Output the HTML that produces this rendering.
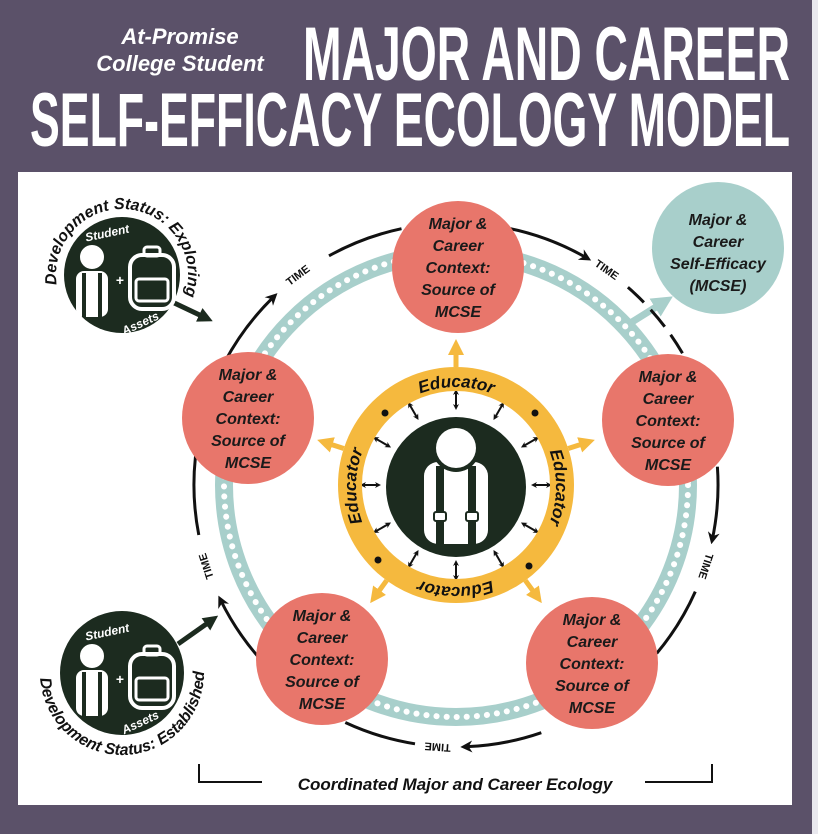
<!DOCTYPE html>
<html><head><meta charset="utf-8"><style>
html,body{margin:0;padding:0;background:#5b5169;}
svg{display:block}
.t{font-family:"Liberation Sans",sans-serif;font-weight:bold;font-style:italic;}
</style></head><body>
<svg id="s" width="818" height="834" viewBox="0 0 818 834" xmlns="http://www.w3.org/2000/svg">
<defs>
<marker id="ah" viewBox="0 0 10 10" refX="6" refY="5" markerWidth="4" markerHeight="4" orient="auto" markerUnits="strokeWidth"><path d="M0,0 L10,5 L0,10 L3,5 z" fill="#111"/></marker>
<marker id="ah2" viewBox="0 0 10 10" refX="5" refY="5" markerWidth="3" markerHeight="3" orient="auto-start-reverse" markerUnits="strokeWidth"><path d="M0,0 L10,5 L0,10 L3,5 z" fill="#111"/></marker>
<marker id="ay" viewBox="0 0 10 10" refX="5" refY="5" markerWidth="3.2" markerHeight="3.2" orient="auto" markerUnits="strokeWidth"><path d="M0,0 L10,5 L0,10 z" fill="#f5b93e"/></marker>
<marker id="at" viewBox="0 0 10 10" refX="5" refY="5" markerWidth="3" markerHeight="3" orient="auto" markerUnits="strokeWidth"><path d="M0,0 L10,5 L0,10 z" fill="#a8cfcb"/></marker>
<marker id="ad" viewBox="0 0 10 10" refX="5" refY="5" markerWidth="3" markerHeight="3" orient="auto" markerUnits="strokeWidth"><path d="M0,0 L10,5 L0,10 z" fill="#1c2b1f"/></marker>
<path id="edu" d="M356,487 A100,100 0 1 1 556,487 A100,100 0 1 1 356,487 A100,100 0 1 1 556,487 A100,100 0 1 1 356,487"/>
<path id="b1" d="M60,297.6 A66,66 0 1 1 179.2,308"/>
<path id="b2" d="M51,632 A82,82 0 1 0 189.2,626"/>
</defs>
<rect x="0" y="0" width="818" height="834" fill="#5b5169"/>
<rect x="812" y="0" width="6" height="834" fill="#e9e8ee"/>
<rect x="18" y="172" width="774" height="633" fill="#fff"/>

<text x="180" y="44" text-anchor="middle" class="t" font-size="22" fill="#fff">At-Promise</text>
<text x="180" y="71" text-anchor="middle" class="t" font-size="22" fill="#fff">College Student</text>
<text x="303" y="80" textLength="487" lengthAdjust="spacingAndGlyphs" font-family="'Liberation Sans Narrow','Liberation Sans',sans-serif" font-weight="bold" font-size="76" fill="#fff">MAJOR AND CAREER</text>
<text x="30" y="146" textLength="760" lengthAdjust="spacingAndGlyphs" font-family="'Liberation Sans Narrow','Liberation Sans',sans-serif" font-weight="bold" font-size="76" fill="#fff">SELF-EFFICACY ECOLOGY MODEL</text>

<g id="dyn"></g>

<circle cx="456" cy="485" r="106" fill="none" stroke="#f5b93e" stroke-width="24"/>
<g class="t" font-size="17" fill="#111" font-style="normal" font-family="'Liberation Serif','Liberation Sans',serif">
<text><textPath href="#edu" startOffset="157" text-anchor="middle">Educator</textPath></text>
<text><textPath href="#edu" startOffset="314" text-anchor="middle">Educator</textPath></text>
<text><textPath href="#edu" startOffset="471" text-anchor="middle">Educator</textPath></text>
<text><textPath href="#edu" startOffset="628" text-anchor="middle">Educator</textPath></text>
</g>
<circle cx="385" cy="413" r="3.5" fill="#111"/><circle cx="535" cy="413" r="3.5" fill="#111"/>
<circle cx="378" cy="560" r="3.5" fill="#111"/><circle cx="529" cy="566" r="3.5" fill="#111"/>
<circle cx="456" cy="487" r="70" fill="#1c2b1f"/>
<rect x="424" y="462" width="64" height="82" rx="14" fill="#fff"/>
<rect x="436" y="466" width="8" height="80" fill="#1c2b1f"/>
<rect x="468" y="466" width="8" height="80" fill="#1c2b1f"/>
<rect x="434" y="512" width="12" height="9" rx="2" fill="#fff" stroke="#1c2b1f" stroke-width="2"/>
<rect x="466" y="512" width="12" height="9" rx="2" fill="#fff" stroke="#1c2b1f" stroke-width="2"/>
<circle cx="456" cy="448" r="24" fill="#1c2b1f"/>
<circle cx="456" cy="448" r="20" fill="#fff"/>

<circle cx="122" cy="275" r="58" fill="#1c2b1f"/>
<circle cx="122" cy="673" r="62" fill="#1c2b1f"/>
<g class="t" font-size="16" fill="#111" font-style="normal">
<text><textPath href="#b1" startOffset="50%" text-anchor="middle">Development Status: Exploring</textPath></text>
<text><textPath href="#b2" startOffset="50%" text-anchor="middle">Development Status: Established</textPath></text>
</g>

<path d="M199,764 V782 H262 M645,782 H712 V764" fill="none" stroke="#111" stroke-width="2"/>
<text x="455" y="790" text-anchor="middle" class="t" font-size="17" fill="#111">Coordinated Major and Career Ecology</text>
</svg>
<script>
(function(){
var NS="http://www.w3.org/2000/svg",g=document.getElementById('dyn'),C=[456,485];
function el(n,a,p){var e=document.createElementNS(NS,n);for(var k in a)e.setAttribute(k,a[k]);(p||g).appendChild(e);return e;}
function pt(r,a){a=a*Math.PI/180;return [C[0]+r*Math.cos(a),C[1]+r*Math.sin(a)];}
function arc(r,a1,a2){var p=pt(r,a1),q=pt(r,a2);return "M"+p[0].toFixed(1)+","+p[1].toFixed(1)+" A"+r+","+r+" 0 0 1 "+q[0].toFixed(1)+","+q[1].toFixed(1);}
el('circle',{cx:C[0],cy:C[1],r:232,fill:'none',stroke:'#a8cfcb','stroke-width':18});
el('circle',{cx:C[0],cy:C[1],r:232,fill:'none',stroke:'#fff','stroke-width':6,'stroke-dasharray':'0.1 10','stroke-linecap':'round'});
el('path',{d:'M632,322 L664,302',stroke:'#a8cfcb','stroke-width':7,fill:'none','marker-end':'url(#at)'});
var R=262;
var segs=[[208,226,1],[241,258,0],[281,300,1],[311,330,2],[-4,12,1],[24,40,0],[71,88,1],[99,115,0],[139,154,1],[169,192,0]];
segs.forEach(function(s){var a={d:arc(R,s[0],s[1]),fill:'none',stroke:'#111','stroke-width':3};if(s[2]==1)a['marker-end']='url(#ah)';if(s[2]==2)a['stroke-dasharray']='22 10';el('path',a);});
[[233,"TIME"],[305,"TIME"],[18,"TIME"],[94,"TIME"],[162,"TIME"]].forEach(function(l){var p=pt(R,l[0]);var t=el('text',{x:p[0].toFixed(1),y:p[1].toFixed(1),'text-anchor':'middle','dominant-baseline':'central','font-family':'Liberation Sans,sans-serif','font-weight':'bold','font-size':11,fill:'#111',transform:'rotate('+(l[0]+90)+' '+p[0].toFixed(1)+' '+p[1].toFixed(1)+')'});t.textContent=l[1];});
[-90,-162,-18,126,54].forEach(function(a){var p=pt(118,a),q=pt(138,a);el('path',{d:'M'+p[0]+','+p[1]+' L'+q[0]+','+q[1],stroke:'#f5b93e','stroke-width':5,'marker-end':'url(#ay)'});});
for(var i=0;i<12;i++){var a=i*30-90,p=pt(78,a),q=pt(93,a);el('path',{d:'M'+p[0]+','+p[1]+' L'+q[0]+','+q[1],stroke:'#111','stroke-width':2,'marker-start':'url(#ah2)','marker-end':'url(#ah2)'});}
var circ=[[458,267],[248,418],[668,420],[322,659],[592,663]];
circ.forEach(function(c){el('circle',{cx:c[0],cy:c[1],r:66,fill:'#e8766b'});
["Major &","Career","Context:","Source of","MCSE"].forEach(function(s,j){var t=el('text',{x:c[0],y:c[1]-38+j*22,'text-anchor':'middle','font-family':'Liberation Sans,sans-serif','font-weight':'bold','font-style':'italic','font-size':16,fill:'#1a1a1a'});t.textContent=s;});});
el('circle',{cx:718,cy:248,r:66,fill:'#a8cfcb'});
["Major &","Career","Self-Efficacy","(MCSE)"].forEach(function(s,j){var t=el('text',{x:718,y:225+j*22,'text-anchor':'middle','font-family':'Liberation Sans,sans-serif','font-weight':'bold','font-style':'italic','font-size':16,fill:'#1a1a1a'});t.textContent=s;});
el('path',{d:'M168,300 L206,318',stroke:'#1c2b1f','stroke-width':5,'marker-end':'url(#ad)'});
el('path',{d:'M178,644 L212,620',stroke:'#1c2b1f','stroke-width':5,'marker-end':'url(#ad)'});
function icon(x,y){
 var W='#fff';
 el('rect',{x:x-46,y:y-6,width:32,height:46,rx:8,fill:W});
 el('rect',{x:x-40,y:y-4,width:4,height:44,fill:'#1c2b1f'});
 el('rect',{x:x-24,y:y-4,width:4,height:44,fill:'#1c2b1f'});
 el('circle',{cx:x-30,cy:y-20,r:13,fill:W,stroke:'#1c2b1f','stroke-width':2});
 var t=el('text',{x:x-2,y:y+8,'text-anchor':'middle','font-family':'Liberation Sans,sans-serif','font-weight':'bold','font-size':14,fill:W});t.textContent='+';
 el('rect',{x:x+8,y:y-22,width:44,height:54,rx:12,fill:'none',stroke:W,'stroke-width':4});
 el('rect',{x:x+14,y:y+2,width:32,height:22,rx:3,fill:'none',stroke:W,'stroke-width':3});
 el('rect',{x:x+22,y:y-30,width:16,height:9,rx:3,fill:'none',stroke:W,'stroke-width':3});
 var s=el('text',{x:x-14,y:y-40,'text-anchor':'middle','font-family':'Liberation Sans,sans-serif','font-weight':'bold','font-style':'italic','font-size':12,fill:W,transform:'rotate(-12 '+(x-14)+' '+(y-40)+')'});s.textContent='Student';
 var a=el('text',{x:x+20,y:y+50,'text-anchor':'middle','font-family':'Liberation Sans,sans-serif','font-weight':'bold','font-style':'italic','font-size':12,fill:W,transform:'rotate(-25 '+(x+20)+' '+(y+50)+')'});a.textContent='Assets';
}
var over=document.createElementNS(NS,'g');document.getElementById('s').appendChild(over);g=over;
icon(122,277);icon(122,676);
})();
</script>
</body></html>
